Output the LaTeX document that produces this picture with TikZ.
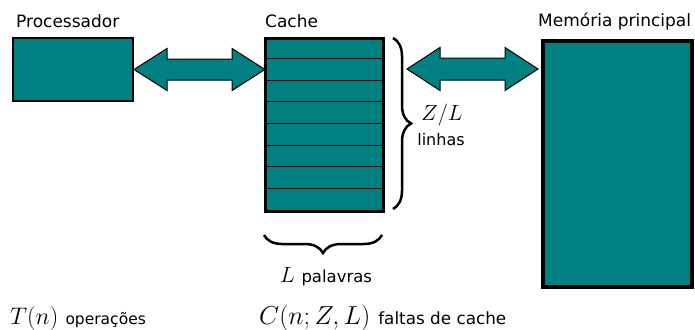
\RequirePackage{fix-cm}
\documentclass[tikz,border=0pt]{standalone}
\usepackage{fontspec}
\setsansfont{DejaVu Sans}
\usetikzlibrary{decorations.pathreplacing}
\definecolor{tealc}{HTML}{008080}
\begin{document}
\begin{tikzpicture}[x=1pt,y=-1pt,
  box/.style={draw=black, fill=tealc, inner sep=0pt, anchor=north west},
  lbl/.style={font=\sffamily\fontsize{17}{20}\selectfont, inner sep=0pt},
  slbl/.style={font=\fontsize{24}{27}\selectfont, inner sep=0pt},
  arr/.style={draw=black, line width=1pt, fill=tealc, line join=miter},
  brc/.style={decorate, decoration={brace, amplitude=18pt}, line width=2.5pt},
  rowline/.style={line width=1.2pt}]
\useasboundingbox (0,0) rectangle (695,329);
% boxes
\node[box, line width=2pt, minimum width=120pt, minimum height=63pt] (proc) at (12,37) {};
\node[box, line width=3pt, minimum width=118pt, minimum height=173pt] (cache) at (264,37) {};
\node[box, line width=4pt, minimum width=149pt, minimum height=246pt] (mem) at (541,39) {};
\foreach \k in {1,...,7}
  \draw[rowline] ([yshift=-\k*21.625pt]cache.north west) -- ([yshift=-\k*21.625pt]cache.north east);
% arrows
\draw[arr] (proc.east) -- ++(33,-21) -- ++(0,10.5) -- ++(65,0) -- ++(0,-10.5) -- ++(33,21)
  -- ++(-33,21) -- ++(0,-10.5) -- ++(-65,0) -- ++(0,10.5) -- cycle;
\coordinate (ra) at (407,69);
\draw[arr] (ra) -- ++(33,-21.5) -- ++(0,10.5) -- ++(65,0) -- ++(0,-10.5) -- ++(33,21.5)
  -- ++(-33,21.5) -- ++(0,-10.5) -- ++(-65,0) -- ++(0,10.5) -- cycle;
% braces
\coordinate (b1) at (393,38);
\coordinate (b2) at (393,209);
\draw[brc] (b1) -- (b2);
\coordinate (b3) at (382,235);
\coordinate (b4) at (264,235);
\draw[brc] (b3) -- (b4);
% labels
\node[lbl, anchor=base west] (lp) at (16,28) {Processador};
\node[lbl, anchor=base west] (lc) at (265,28) {Cache};
\node[lbl, anchor=base west] (lm) at (538,27) {Memória principal};
\node[slbl, anchor=base, font=\fontsize{22}{25}\selectfont] (zl) at (442,120) {$Z/L$};
\node[lbl, anchor=base, font=\sffamily\fontsize{16}{19}\selectfont] (li) at (441,145) {linhas};
\node[slbl, anchor=base west, font=\fontsize{22}{25}\selectfont] (lw) at (280,282) {$L$ \sffamily\fontsize{16.5}{19}\selectfont palavras};
\node[slbl, anchor=base west] (tn) at (10,324) {$T(n)$ \sffamily\fontsize{15.5}{18}\selectfont operações};
\node[slbl, anchor=base west, font=\fontsize{26}{29}\selectfont] (cn) at (259,324) {$C(n;Z,L)$\hspace{8pt}\sffamily\fontsize{16.8}{19}\selectfont faltas de cache};
\end{tikzpicture}
\end{document}
